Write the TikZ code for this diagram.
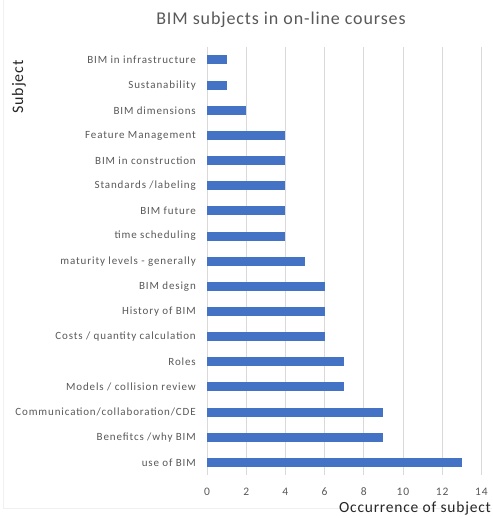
\documentclass[tikz,border=0pt]{standalone}
\usepackage{fontspec}
\setmainfont{Carlito}
\newfontfamily\catfont[LetterSpace=8]{Carlito}
\newfontfamily\ttlfont[LetterSpace=5]{Carlito}
\definecolor{bar}{HTML}{4472C4}
\definecolor{txt}{HTML}{595959}
\definecolor{grid}{HTML}{D9D9D9}
\begin{document}
\begin{tikzpicture}[x=1pt,y=-1pt,
  cat/.style={anchor=east,text=txt,font=\catfont\fontsize{11}{13}\selectfont,inner sep=0pt},
  tick/.style={anchor=center,text=txt,font=\catfont\fontsize{11.5}{13}\selectfont,inner sep=0pt},
  barbox/.style={fill=bar,draw=none},
  gridline/.style={draw=grid,line width=1pt}]
\useasboundingbox (0,0) rectangle (492,518);
\fill[white] (0,0) rectangle (492,518);
\draw[gray!12,line width=0.6pt] (3,0) -- (3,508) -- (492,508);
% grid
\foreach \k in {0,2,...,14}{
  \draw[gridline] ({207+19.6*\k},47) -- ({207+19.6*\k},475);
  \node[tick] (t\k) at ({207+19.6*\k},492) {\k};
}
% bars
\foreach \lab/\v [count=\i from 0] in {
  {BIM in infrastructure}/1,
  {Sustanability}/1,
  {BIM dimensions}/2,
  {Feature Management}/4,
  {BIM in construction}/4,
  {Standards /labeling}/4,
  {BIM future}/4,
  {time scheduling}/4,
  {maturity levels - generally}/5,
  {BIM design}/6,
  {History of BIM}/6,
  {Costs / quantity calculation}/6,
  {Roles}/7,
  {Models / collision review}/7,
  {Communication/collaboration/CDE}/9,
  {Benefitcs /why BIM}/9,
  {use of BIM}/13}{
  \node[cat] (c\i) at (196,{60+25.15*\i}) {\lab};
  \fill[barbox] (207,{60+25.15*\i-4.5}) rectangle ({207+19.6*\v},{60+25.15*\i+4.5});
}
\node[text=txt,font=\ttlfont\fontsize{18}{21}\selectfont,inner sep=0pt] (title) at (281,20) {BIM subjects in on-line courses};
\node[text=black!85,font=\ttlfont\fontsize{16}{19}\selectfont,inner sep=0pt,rotate=90] (ylab) at (19,87) {Subject};
\node[text=black!85,font=\ttlfont\fontsize{15.5}{18}\selectfont,inner sep=0pt,anchor=east] (xlab) at (491,508) {Occurrence of subject};
\end{tikzpicture}
\end{document}
